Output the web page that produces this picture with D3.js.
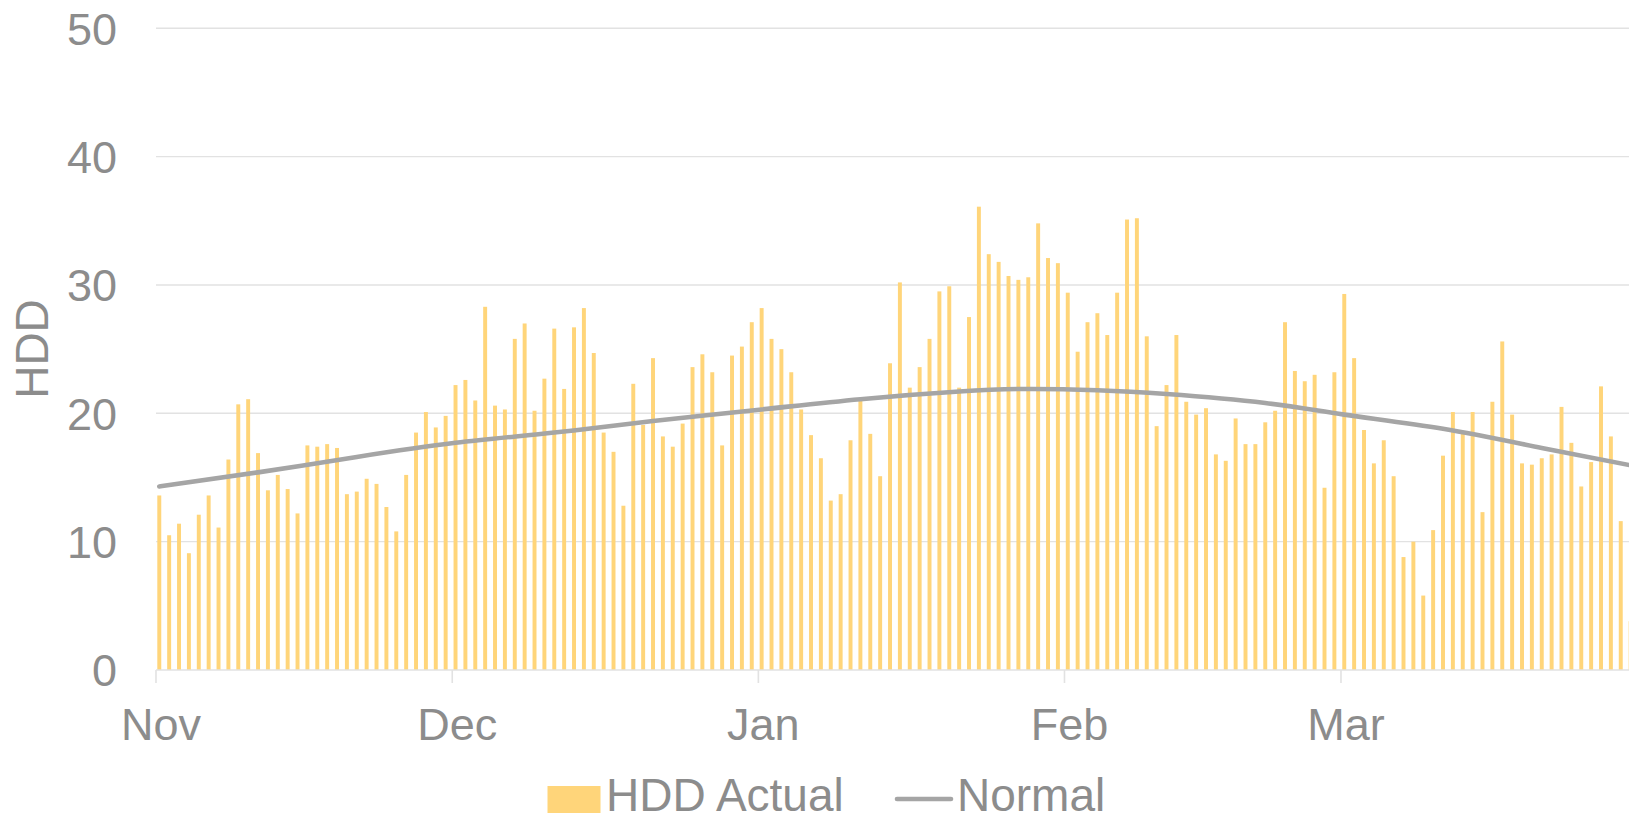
<!DOCTYPE html>
<html>
<head>
<meta charset="utf-8">
<script src="https://cdn.jsdelivr.net/npm/d3@7"></script>
<style>
  body { margin: 0; background: #fff; }
  svg { display: block; font-family: "Liberation Sans", Arial, sans-serif; }
</style>
</head>
<body>
<svg id="chart" width="1629" height="821"></svg>
<script>
// daily HDD, Nov 1 .. Mar 30 (Mar 31 falls outside the picture)
const hddNov = [13.6, 10.5, 11.4, 9.1, 12.1, 13.6, 11.1, 16.4, 20.7, 21.1, 16.9, 14.0, 15.2, 14.1, 12.2,
  17.5, 17.4, 17.6, 17.3, 13.7, 13.9, 14.9, 14.5, 12.7, 10.8, 15.2, 18.5, 20.1, 18.9, 19.8]
const hddDec = [22.2, 22.6, 21.0, 28.3, 20.6, 20.3, 25.8, 27.0, 20.2, 22.7, 26.6, 21.9, 26.7, 28.2, 24.7,
  18.5, 17.0, 12.8, 22.3, 19.1, 24.3, 18.2, 17.4, 19.2, 23.6, 24.6, 23.2, 17.5, 24.5, 25.2, 27.1]
const hddJan = [28.2, 25.8, 25.0, 23.2, 20.3, 18.3, 16.5, 13.2, 13.7, 17.9, 21.0, 18.4, 15.1, 23.9, 30.2,
  22.0, 23.6, 25.8, 29.5, 29.9, 22.0, 27.5, 36.1, 32.4, 31.8, 30.7, 30.4, 30.6, 34.8, 32.1, 31.7]
const hddFeb = [29.4, 24.8, 27.1, 27.8, 26.1, 29.4, 35.1, 35.2, 26.0, 19.0, 22.2, 26.1, 20.9, 19.9, 20.4,
  16.8, 16.3, 19.6, 17.6, 17.6, 19.3, 20.2, 27.1, 23.3, 22.5, 23.0, 14.2, 23.2]
const hddMar = [29.3, 24.3, 18.7, 16.1, 17.9, 15.1, 8.8, 10.0, 5.8, 10.9, 16.7, 20.1, 18.6, 20.1, 12.3,
  20.9, 25.6, 19.9, 16.1, 16.0, 16.5, 16.8, 20.5, 17.7, 14.3, 16.2, 22.1, 18.2, 11.6, 3.8]

const normalDates = ['2022-11-01', '2022-11-11', '2022-11-21', '2022-12-01', '2022-12-11', '2022-12-21',
  '2023-01-01', '2023-01-11', '2023-01-21', '2023-01-28', '2023-02-04', '2023-02-11', '2023-02-21',
  '2023-03-01', '2023-03-11', '2023-03-21', '2023-03-31']
const normalValues = [14.3, 15.4, 16.6, 17.7, 18.5, 19.4, 20.3, 21.1, 21.7, 21.9, 21.8, 21.5, 20.8,
  19.9, 18.8, 17.3, 15.8]

const yTicks = [0, 10, 20, 30, 40, 50]
const monthLabels = ['Nov', 'Dec', 'Jan', 'Feb', 'Mar']

const BAR = '#ffd57a'
const LINE = '#a5a5a5'
const TEXT = '#8c8c8c'
const GRID = '#e2e2e2'

const parse = d3.timeParse('%Y-%m-%d')
const days = d3.timeDay.range(parse('2022-11-01'), parse('2023-04-01'))
const actual = [].concat(hddNov, hddDec, hddJan, hddFeb, hddMar)
  .map((v, i) => ({ date: days[i], value: v }))
const normal = normalDates.map((d, i) => ({ date: parse(d), value: normalValues[i] }))

const svg = d3.select('#chart')

const x = d3.scaleBand()
  .domain(days.map(d => +d))
  .range([156, 1647.1])
  .paddingInner(0.6)
  .paddingOuter(0.3)
  .align(0.22)

const step = x.step()
const xTime = d3.scaleTime()
  .domain([days[0], d3.timeDay.offset(days[0], days.length)])
  .range([156, 156 + step * days.length])

const y = d3.scaleLinear().domain([0, 50]).range([670, 28.3])

// gridlines
svg.append('g')
  .selectAll('line')
  .data(yTicks.filter(t => t > 0))
  .join('line')
    .attr('x1', 156).attr('x2', 1629)
    .attr('y1', d => y(d)).attr('y2', d => y(d))
    .attr('stroke', GRID).attr('stroke-width', 1.4)

// y labels
svg.append('g')
  .attr('font-size', 45)
  .attr('fill', TEXT)
  .attr('text-anchor', 'end')
  .selectAll('text')
  .data(yTicks)
  .join('text')
    .attr('x', 117)
    .attr('y', d => y(d))
    .attr('dy', '0.36em')
    .text(d => d)

svg.append('text')
  .attr('transform', 'translate(48,349) rotate(-90)')
  .attr('text-anchor', 'middle')
  .attr('font-size', 46)
  .attr('fill', TEXT)
  .text('HDD')

// bars
svg.append('g')
  .selectAll('rect')
  .data(actual)
  .join('rect')
    .attr('x', d => x(+d.date))
    .attr('width', x.bandwidth())
    .attr('y', d => y(d.value))
    .attr('height', d => y(0) - y(d.value))
    .attr('fill', BAR)

// x axis
const months = d3.timeMonth.range(days[0], d3.timeDay.offset(days[0], days.length))
svg.append('line')
  .attr('x1', 156).attr('x2', 1629)
  .attr('y1', y(0)).attr('y2', y(0))
  .attr('stroke', GRID).attr('stroke-width', 1.6)

svg.append('g')
  .selectAll('line')
  .data(months)
  .join('line')
    .attr('x1', d => xTime(d)).attr('x2', d => xTime(d))
    .attr('y1', y(0)).attr('y2', y(0) + 13)
    .attr('stroke', GRID).attr('stroke-width', 1.6)

svg.append('g')
  .attr('font-size', 45)
  .attr('fill', TEXT)
  .attr('text-anchor', 'middle')
  .selectAll('text')
  .data(months)
  .join('text')
    .attr('x', d => xTime(d) + 5)
    .attr('y', 740)
    .text((d, i) => monthLabels[i])

// normal line
const line = d3.line()
  .x(d => xTime(d.date) + (x(+days[0]) - 156) + x.bandwidth() / 2)
  .y(d => y(d.value))
  .curve(d3.curveNatural)

svg.append('path')
  .datum(normal)
  .attr('d', line)
  .attr('fill', 'none')
  .attr('stroke', LINE)
  .attr('stroke-width', 4.6)
  .attr('stroke-linecap', 'round')

// legend
const legend = svg.append('g').attr('font-size', 46).attr('fill', TEXT)
legend.append('rect')
  .attr('x', 547.5).attr('y', 786).attr('width', 53).attr('height', 27)
  .attr('fill', BAR)
legend.append('text').attr('x', 606).attr('y', 811).text('HDD Actual')
legend.append('line')
  .attr('x1', 897).attr('x2', 951).attr('y1', 799).attr('y2', 799)
  .attr('stroke', LINE).attr('stroke-width', 4.6).attr('stroke-linecap', 'round')
legend.append('text').attr('x', 957).attr('y', 811).text('Normal')
</script>
</body>
</html>
